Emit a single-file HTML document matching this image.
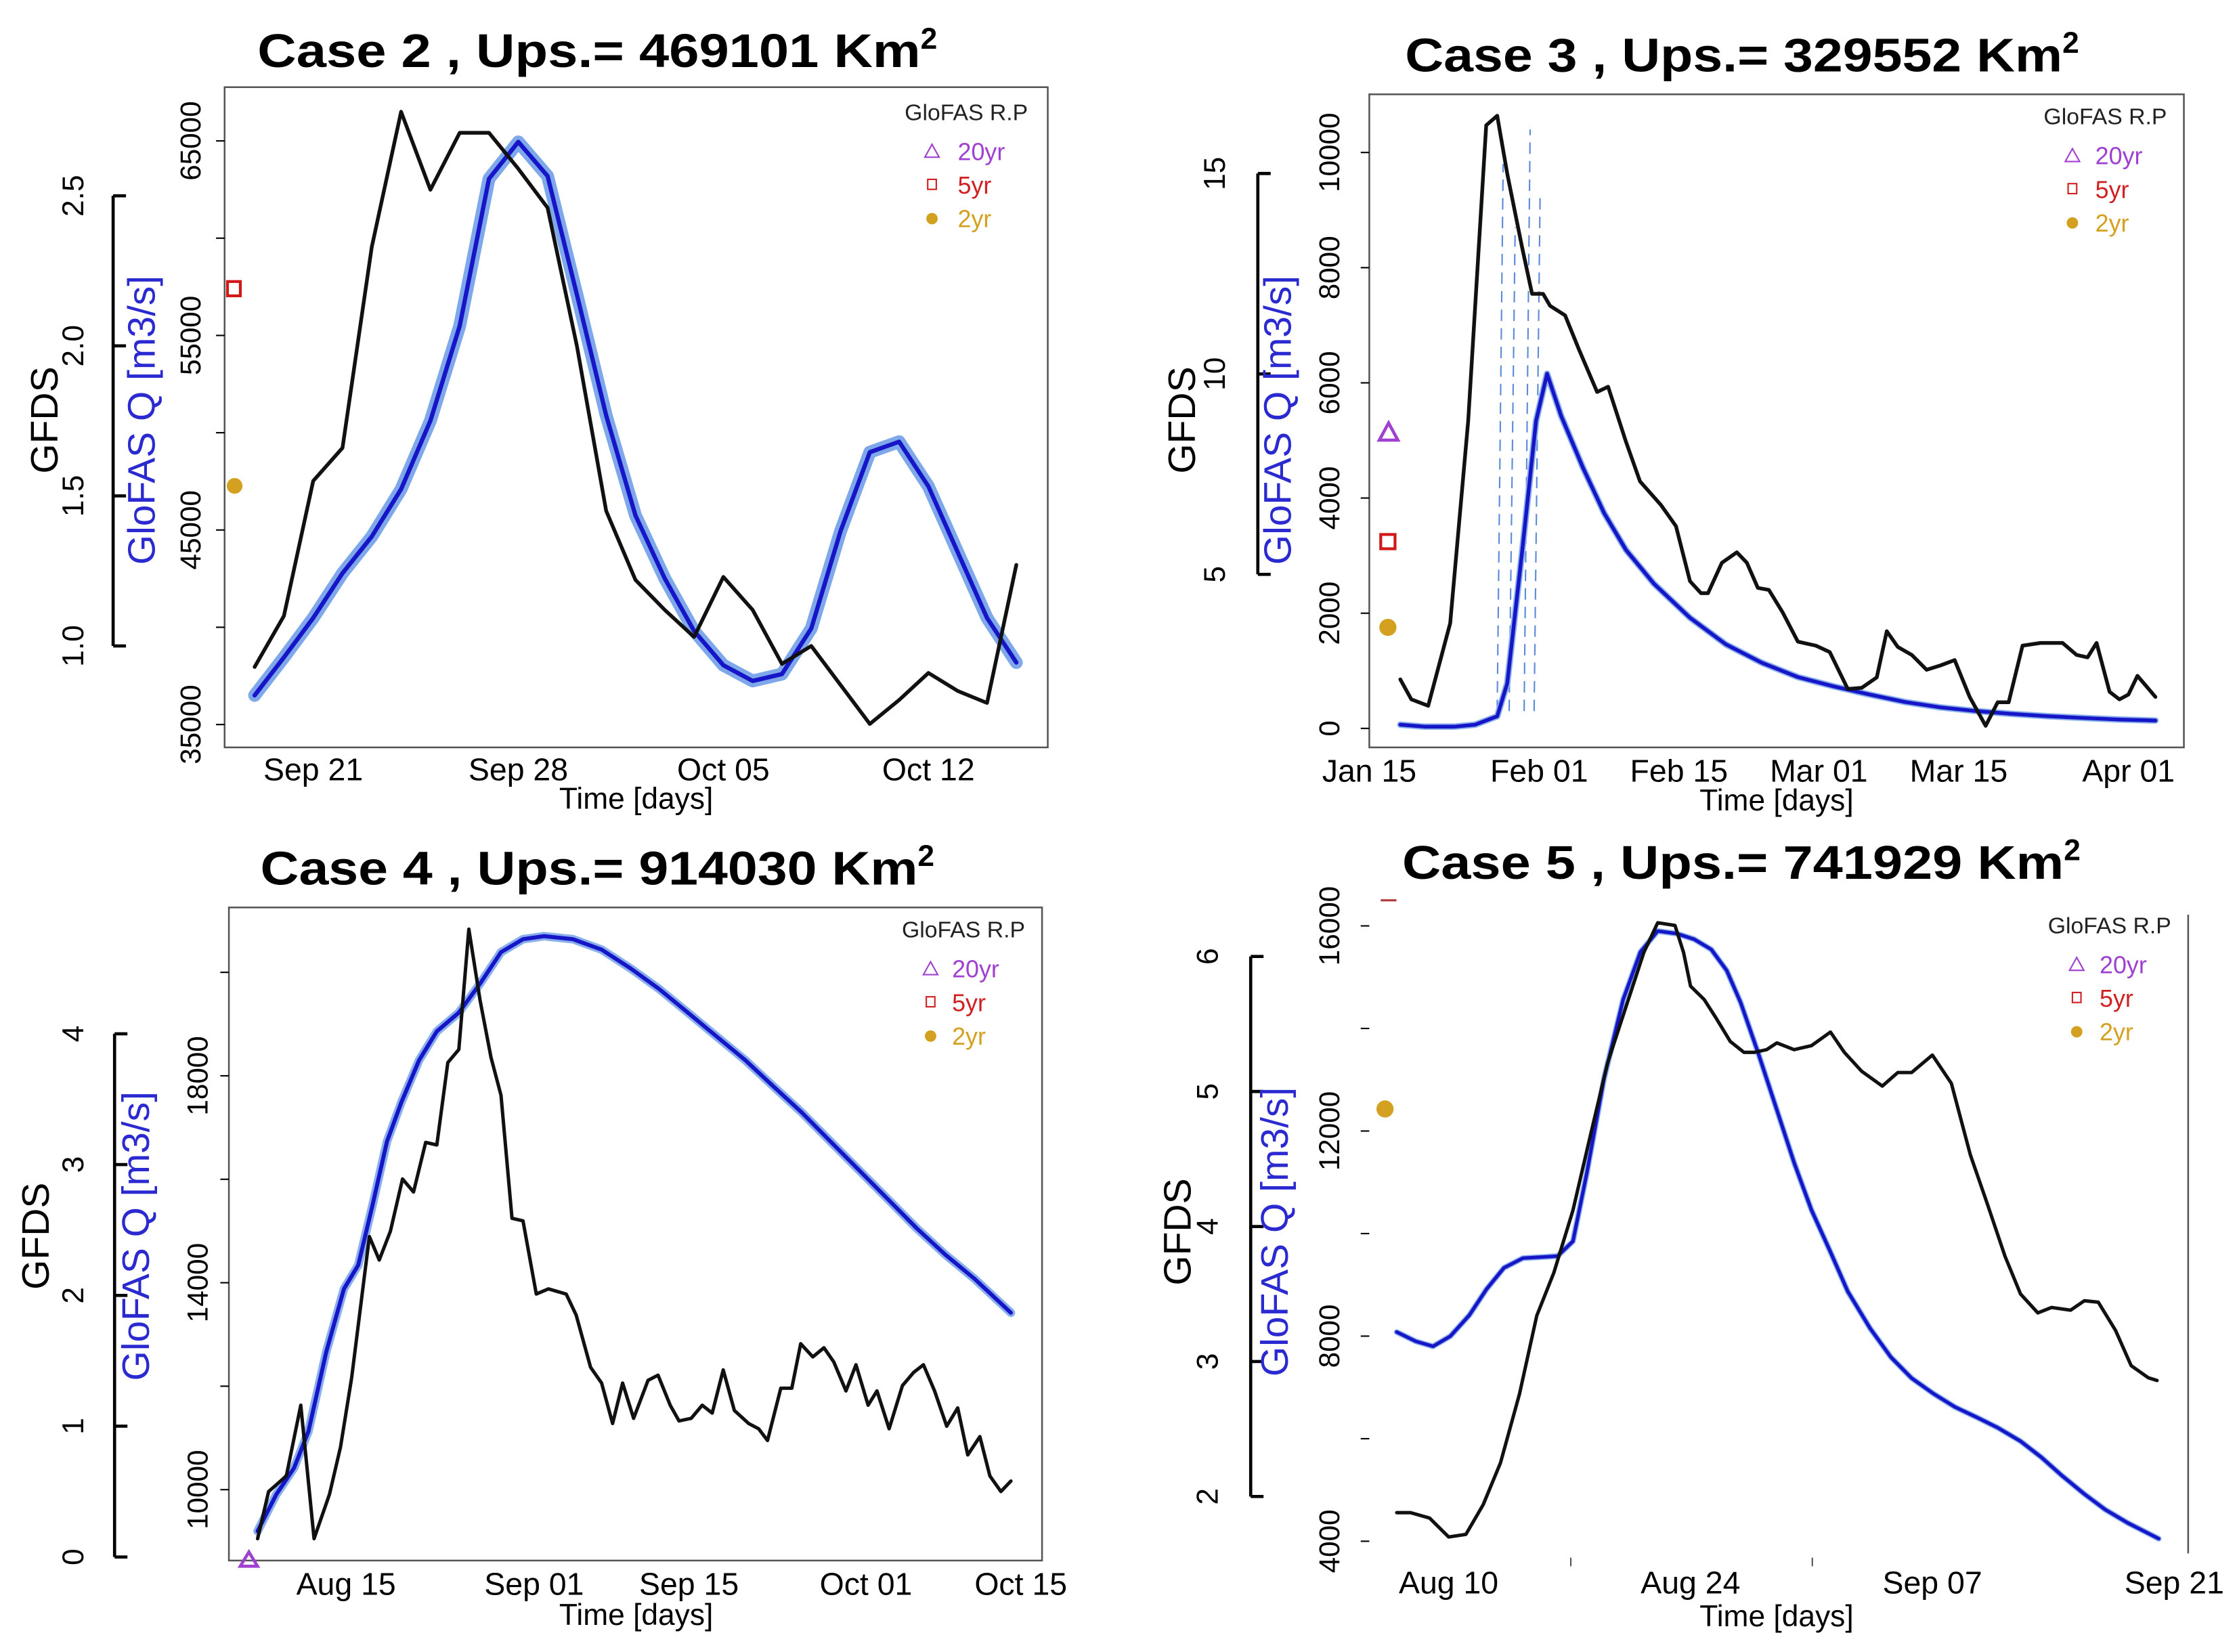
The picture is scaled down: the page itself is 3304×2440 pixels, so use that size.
<!DOCTYPE html>
<html><head><meta charset="utf-8"><style>
html,body{margin:0;padding:0;background:#fff}
svg{display:block}
text{font-family:"Liberation Sans",Arial,sans-serif}
</style></head><body>
<svg id="chart" width="3304" height="2440" viewBox="0 0 1565 1156" xmlns="http://www.w3.org/2000/svg">
<g id="p2"></g>
<g id="p3"></g>
<g id="p4"></g>
<g id="p5"></g>
</svg>
<script>
// ---- Case 2 data (day 0 = Sep 21) ----
const c2Days = [-2,-1,0,1,2,3,4,5,6,7,8,9,10,11,12,13,14,15,16,17,18,19,20,21,22,23,24];
const c2Q = [36500,38450,40480,42780,44670,47100,50620,55490,63050,64950,63190,57100,50890,45750,42510,39810,38050,37240,37590,39940,44940,49000,49540,47240,43860,40480,38190];
const c2G = [0.93,1.10,1.55,1.66,2.33,2.78,2.52,2.71,2.71,2.59,2.46,2.00,1.45,1.22,1.12,1.03,1.23,1.12,0.94,1.00,0.87,0.74,0.82,0.91,0.85,0.81,1.27];
const c2XTicks = ["Sep 21","Sep 28","Oct 05","Oct 12"];
const c2XTickDays = [0,7,14,21];
const c2QTicks = [35000,45000,55000,65000];
const c2GTicks = [1.0,1.5,2.0,2.5];
const c2GTickLabels = ["1.0","1.5","2.0","2.5"];
// ---- Case 3 data (day 0 = Jan 15) ----
const c3QDays = [3.1,5.6,8.5,10.6,12.8,13.8,15.3,16.7,17.8,19.2,21.4,23.5,25.7,28.5,32.1,35.7,39.3,42.9,46.5,50.0,53.6,57.2,60.8,64.4,68.0,71.5,75.1,78.7];
const c3Q = [64,30,30,64,210,780,3060,5340,6160,5430,4520,3740,3100,2510,1920,1460,1140,890,730,590,460,365,300,250,210,180,155,137];
const c3GDays = [3.1,4.2,5.9,8.1,9.9,11.7,12.8,13.8,15.3,16.3,17.4,18.1,19.6,21.0,22.8,23.9,25.7,27.1,29.2,30.7,32.1,33.2,33.9,35.3,36.8,37.8,38.9,40.0,41.4,42.9,44.7,46.1,47.9,49.3,50.8,51.8,52.9,54.3,55.8,57.2,58.6,60.1,61.7,62.9,64.0,65.4,67.2,69.4,70.8,71.9,72.8,74.1,75.1,76.0,76.9,78.7];
const c3G = [2.38,1.88,1.72,3.78,8.83,16.2,16.44,15.0,13.16,12.0,12.0,11.7,11.46,10.6,9.55,9.68,8.31,7.32,6.73,6.2,4.83,4.53,4.53,5.29,5.55,5.29,4.66,4.61,4.04,3.32,3.22,3.06,2.14,2.17,2.43,3.58,3.19,2.99,2.62,2.73,2.86,1.94,1.22,1.81,1.81,3.22,3.29,3.29,2.99,2.93,3.29,2.07,1.88,2.0,2.47,1.94];
const c3SpikeDays = [12.8,14.0,15.5,16.5];
const c3SpikeQ = [9800,8700,10400,9300];
const c3XTicks = ["Jan 15","Feb 01","Feb 15","Mar 01","Mar 15","Apr 01"];
const c3XTickDays = [0,17,31,45,59,76];
const c3QTicks = [0,2000,4000,6000,8000,10000];
const c3GTicks = [5,10,15];
// ---- Case 4 data (day 0 = Aug 15) ----
const c4QDays = [-8.0,-6.3,-4.7,-3.4,-1.8,-0.2,1.1,2.4,3.7,5.0,6.6,8.2,10.2,12.1,14.0,16.0,17.9,20.5,23.1,25.7,28.3,30.9,33.5,36.1,38.6,41.2,43.8,46.4,49.0,51.6,54.2,56.8,60.1];
const c4Q = [9200,9910,10420,11130,12660,13880,14340,15510,16730,17490,18300,18860,19220,19780,20390,20640,20700,20640,20440,20080,19680,19220,18760,18300,17800,17290,16730,16170,15610,15050,14540,14080,13420];
const c4GDays = [-8.0,-7.0,-5.4,-4.1,-2.9,-1.5,-0.5,0.5,2.1,3.0,4.0,5.1,6.1,7.2,8.2,9.2,10.2,11.1,12.1,13.1,14.0,15.0,16.0,17.2,18.3,19.9,20.8,22.1,23.1,24.1,25.0,26.0,27.3,28.2,29.3,30.1,31.2,32.2,33.1,34.1,35.1,36.4,37.3,38.1,39.3,40.3,41.1,42.2,43.2,44.1,45.2,46.1,47.2,48.0,49.1,50.3,51.3,52.2,53.2,54.3,55.3,56.2,57.3,58.2,59.2,60.1];
const c4G = [0.14,0.50,0.62,1.16,0.14,0.48,0.84,1.37,2.45,2.27,2.49,2.89,2.79,3.17,3.15,3.78,3.88,4.80,4.26,3.82,3.53,2.59,2.57,2.01,2.05,2.01,1.85,1.45,1.33,1.02,1.33,1.06,1.35,1.39,1.16,1.04,1.06,1.16,1.10,1.43,1.12,1.02,0.98,0.89,1.29,1.29,1.63,1.53,1.60,1.49,1.27,1.47,1.16,1.27,0.98,1.31,1.41,1.47,1.27,1.00,1.14,0.78,0.92,0.62,0.50,0.58];
const c4XTicks = ["Aug 15","Sep 01","Sep 15","Oct 01","Oct 15"];
const c4XTickDays = [0,17,31,47,61];
const c4QTicks = [10000,14000,18000];
const c4QMinor = [12000,16000,20000];
const c4GTicks = [0,1,2,3,4];
// ---- Case 5 data (day 0 = Aug 10) ----
const c5QDays = [-3.0,-1.9,-0.9,0.1,1.2,2.2,3.2,4.3,5.3,6.3,7.2,8.0,9.0,10.1,11.1,12.1,13.2,14.2,15.2,16.1,16.9,17.9,19.0,20.0,21.0,22.1,23.1,24.4,25.6,26.8,28.1,29.3,30.6,31.8,33.1,34.3,35.5,36.8,38.0,39.3,41.1];
const c5Q = [8080,7900,7800,8000,8410,8920,9330,9520,9540,9560,9850,11180,13030,14560,15490,15900,15850,15740,15540,15130,14510,13540,12410,11380,10460,9640,8870,8150,7590,7180,6870,6620,6410,6210,5950,5640,5280,4920,4620,4360,4050];
const c5GDays = [-3.0,-2.2,-1.1,0,1.0,2.0,3.0,4.1,5.1,6.1,7.2,8.2,9.2,10.3,11.3,12.1,13.1,13.6,14.0,14.8,15.5,16.3,17.1,17.7,18.4,19.0,20.0,21.0,22.1,22.9,23.9,25.1,26.0,26.8,28.0,29.1,30.2,31.2,32.2,33.1,34.1,34.9,36.0,36.8,37.6,38.6,39.5,40.5,41.0];
const c5G = [1.88,1.88,1.84,1.70,1.72,1.94,2.25,2.76,3.34,3.66,4.12,4.67,5.21,5.64,6.03,6.25,6.23,6.03,5.78,5.68,5.54,5.37,5.29,5.29,5.31,5.36,5.31,5.34,5.44,5.29,5.15,5.04,5.14,5.14,5.27,5.06,4.53,4.16,3.78,3.50,3.36,3.40,3.38,3.45,3.44,3.23,2.97,2.88,2.86];
const c5XTicks = ["Aug 10","Aug 24","Sep 07","Sep 21"];
const c5XTickDays = [0,14,28,42];
const c5QTicks = [4000,8000,12000,16000];
const c5QMinor = [6000,10000,14000];
const c5GTicks = [2,3,4,5,6];

const NS = "http://www.w3.org/2000/svg";
function mk(parent, tag, attrs, txt){
  const e = document.createElementNS(NS, tag);
  for (const k in attrs) e.setAttribute(k, attrs[k]);
  if (txt !== undefined) e.textContent = txt;
  parent.appendChild(e);
  return e;
}
function lin(d0,p0,d1,p1){ return v => p0 + (v-d0)*(p1-p0)/(d1-d0); }
function pts(days, vals, fx, fy){ return days.map((d,i)=>fx(d).toFixed(1)+","+fy(vals[i]).toFixed(1)).join(" "); }

function title(g, x, y, w, main){
  const t = mk(g,"text",{x:x,y:y,"font-size":33,"font-weight":"bold",fill:"#000"});
  
  
  const a = mk(t,"tspan",{textLength:w-14,lengthAdjust:"spacingAndGlyphs"},main);
  mk(t,"tspan",{dy:-13,"font-size":21},"2");
}
function legend(g, cx, y0, mx, tx){
  const h = mk(g,"text",{x:cx,y:y0,"font-size":16,"text-anchor":"middle",fill:"#222"},"GloFAS R.P");
  
  
  const items = [["20yr","#a040d0"],["5yr","#d02020"],["2yr","#d4a020"]];
  items.forEach((it,i)=>{
    const y = y0 + 28 + i*23.5;
    const e = mk(g,"g",{});
    
    
    if(i===0) mk(e,"path",{d:`M${mx-5},${y-2} L${mx+5},${y-2} L${mx},${y-11} Z`,fill:"none",stroke:it[1],"stroke-width":1});
    if(i===1) mk(e,"rect",{x:mx-3,y:y-10,width:6,height:7,fill:"none",stroke:it[1],"stroke-width":1});
    if(i===2) mk(e,"circle",{cx:mx,cy:y-6,r:4,fill:it[1]});
    mk(e,"text",{x:tx,y:y,"font-size":17,fill:it[1]},it[0]);
  });
}
function rotText(g, x, y, s, txt, fill, name){
  const t = mk(g,"text",{x:0,y:0,transform:`translate(${x},${y}) rotate(-90)`,"font-size":s,"text-anchor":"middle",fill:fill||"#000"},txt);
  
  
  return t;
}
function xAxis(g, fx, days, labels, ly, tlx, tly){
  labels.forEach((l,i)=>{
    const t = mk(g,"text",{x:fx(days[i]),y:ly,"font-size":22,"text-anchor":"middle",fill:"#000"},l);
    
    
  });
  const tt = mk(g,"text",{x:tlx,y:tly,"font-size":21,"text-anchor":"middle",fill:"#000"},"Time [days]");
  
  
}
function qAxis(g, x, fy, ticks, minor, lx){
  ticks.concat(minor||[]).forEach(v=>mk(g,"line",{x1:x-6,x2:x,y1:fy(v),y2:fy(v),stroke:"#000","stroke-width":1}));
  ticks.forEach(v=>rotText(g, lx, fy(v), 20, String(v), "#000", "q-tick-label"));
}
function gAxis(g, x, fy, ticks, labels, lx, minorStep){
  const a = mk(g,"line",{x1:x,x2:x,y1:fy(ticks[ticks.length-1]),y2:fy(ticks[0]),stroke:"#000","stroke-width":2.2});
  
  
  ticks.forEach((v,i)=>{
    mk(g,"line",{x1:x,x2:x+9,y1:fy(v),y2:fy(v),stroke:"#000","stroke-width":2.2});
    rotText(g, lx, fy(v), 21, labels ? labels[i] : String(v), "#000", "gfds-tick-label");
  });
}
function series(g, d, v, fx, fy, color, w, name, dash){
  const p = mk(g,"polyline",{points:pts(d,v,fx,fy),fill:"none",stroke:color,"stroke-width":w,"stroke-linejoin":"round","stroke-linecap":"round"});
  if(dash) p.setAttribute("stroke-dasharray",dash);
  
  
  return p;
}
function yTitles(g, gx, bx, cy){
  rotText(g, gx, cy, 27, "GFDS", "#000", "gfds-axis-title");
  rotText(g, bx, cy, 27, "GloFAS Q [m3/s]", "#2a2ad0", "q-axis-title");
}

// ---------- Case 2 ----------
(function(){
  const g = document.getElementById("p2");
  const fx = lin(0,219,1,239.5), fq = lin(65000,98.6,35000,507), fg = lin(2.5,137,1.0,452);
  title(g,180,47,478,"Case 2 , Ups.= 469101 Km");
  mk(g,"rect",{x:157,y:61,width:576,height:462,fill:"none",stroke:"#555","stroke-width":1.2});
  qAxis(g,157,fq,c2QTicks,[40000,50000,60000],140);
  gAxis(g,79,fg,c2GTicks,c2GTickLabels,58);
  yTitles(g,40,108,294);
  series(g,c2Days,c2Q,fx,fq,"#7fa8ea",9,"ensemble-band");
  series(g,c2Days,c2Q,fx,fq,"#1616c8",3,"glofas-q-line");
  series(g,c2Days,c2G,fx,fg,"#111",2.6,"gfds-line");
  const m1 = mk(g,"rect",{x:159,y:197,width:9,height:10,fill:"none",stroke:"#d01818","stroke-width":2});
   
  const m2 = mk(g,"circle",{cx:164,cy:340,r:5.5,fill:"#d4a020"});
   
  legend(g,676,84,652,670);
  xAxis(g,fx,c2XTickDays,c2XTicks,546,445,566);
})();

// ---------- Case 3 ----------
(function(){
  const g = document.getElementById("p3");
  const fx = lin(0,958,1,964.99), fq = lin(0,509.7,10000,106.7), fg = lin(15,121.4,5,401.9);
  title(g,983,50,474,"Case 3 , Ups.= 329552 Km");
  mk(g,"rect",{x:958,y:66,width:570,height:457,fill:"none",stroke:"#555","stroke-width":1.2});
  qAxis(g,958,fq,c3QTicks,null,937);
  gAxis(g,880,fg,c3GTicks,null,857);
  yTitles(g,836,903,294);
  c3SpikeDays.forEach((d,i)=>{
    const s = mk(g,"line",{x1:fx(d),x2:fx(d+0.6),y1:fq(300),y2:fq(c3SpikeQ[i]),stroke:"#5a8ad8","stroke-width":1,"stroke-dasharray":"8,5"});
     
  });
  series(g,c3QDays,c3Q,fx,fq,"#8ab0ec",4.5,"ensemble-band");
  series(g,c3QDays,c3Q,fx,fq,"#1616c8",2.6,"glofas-q-line");
  series(g,c3GDays,c3G,fx,fg,"#111",2.6,"gfds-line");
  const m0 = mk(g,"path",{d:"M965,308 L978,308 L971.5,296 Z",fill:"none",stroke:"#a040d0","stroke-width":2.2});
   
  const m1 = mk(g,"rect",{x:966,y:374,width:10,height:10,fill:"none",stroke:"#d01818","stroke-width":2});
   
  const m2 = mk(g,"circle",{cx:971,cy:439,r:6,fill:"#d4a020"});
   
  legend(g,1473,87,1450,1466);
  xAxis(g,fx,c3XTickDays,c3XTicks,547,1243,567);
})();

// ---------- Case 4 ----------
(function(){
  const g = document.getElementById("p4");
  const fx = lin(0,242,1,249.74), fq = lin(18000,752.8,10000,1042.4), fg = lin(0,1089.5,4,723.4);
  title(g,182,619,474,"Case 4 , Ups.= 914030 Km");
  mk(g,"rect",{x:160,y:635,width:569,height:457,fill:"none",stroke:"#555","stroke-width":1.2});
  qAxis(g,160,fq,c4QTicks,c4QMinor,145);
  gAxis(g,80,fg,c4GTicks,null,58);
  yTitles(g,34,104,865);
  series(g,c4QDays,c4Q,fx,fq,"#8ab0ec",6,"ensemble-band");
  series(g,c4QDays,c4Q,fx,fq,"#1616c8",2.8,"glofas-q-line");
  series(g,c4GDays,c4G,fx,fg,"#111",2.4,"gfds-line");
  const m0 = mk(g,"path",{d:"M168,1096 L180,1096 L174,1086 Z",fill:"none",stroke:"#a040d0","stroke-width":2.2});
   
  legend(g,674,656,651,666);
  xAxis(g,fx,c4XTickDays,c4XTicks,1116,445,1137);
})();

// ---------- Case 5 ----------
(function(){
  const g = document.getElementById("p5");
  const fx = lin(0,1013.5,1,1025.59), fq = lin(16000,647.9,4000,1078.5), fg = lin(6,669.3,2,1047.2);
  title(g,981,615,477,"Case 5 , Ups.= 741929 Km");
  const bl = mk(g,"line",{x1:1531,x2:1531,y1:640,y2:1087,stroke:"#555","stroke-width":1.2});
   
  [1099,1268].forEach(x=>mk(g,"line",{x1:x,x2:x,y1:1090,y2:1096,stroke:"#555","stroke-width":1}));
  qAxis(g,958,fq,c5QTicks,c5QMinor,937);
  gAxis(g,875,fg,c5GTicks,null,852);
  yTitles(g,833,901,862);
  series(g,c5QDays,c5Q,fx,fq,"#8ab0ec",4,"ensemble-band");
  series(g,c5QDays,c5Q,fx,fq,"#1616c8",2.4,"glofas-q-line");
  series(g,c5GDays,c5G,fx,fg,"#111",2.4,"gfds-line");
  const m1 = mk(g,"line",{x1:966,x2:977,y1:630,y2:630,stroke:"#b04040","stroke-width":1.5});
   
  const m2 = mk(g,"circle",{cx:969,cy:776,r:6,fill:"#d4a020"});
   
  legend(g,1476,653,1453,1469);
  xAxis(g,fx,c5XTickDays,c5XTicks,1115,1243,1138);
})();
</script>
</body></html>
